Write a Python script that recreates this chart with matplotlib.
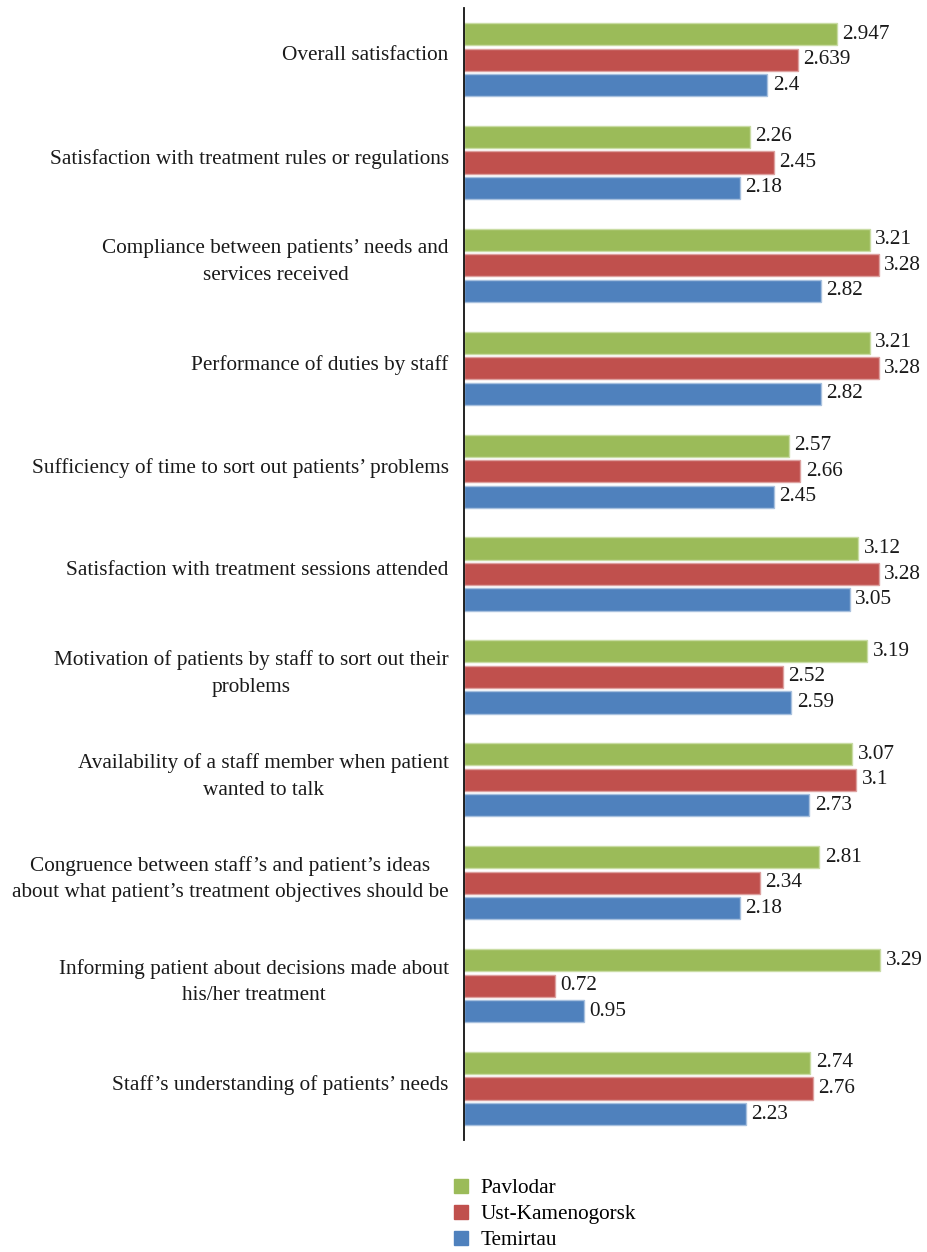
import matplotlib
matplotlib.use("Agg")
import matplotlib.pyplot as plt
from matplotlib.patches import Patch
import numpy as np

categories = [
    "Overall satisfaction",
    "Satisfaction with treatment rules or regulations",
    "Compliance between patients\u2019 needs and\nservices received",
    "Performance of duties by staff",
    "Sufficiency of time to sort out patients\u2019 problems",
    "Satisfaction with treatment sessions attended",
    "Motivation of patients by staff to sort out their\nproblems",
    "Availability of a staff member when patient\nwanted to talk",
    "Congruence between staff\u2019s and patient\u2019s ideas\nabout what patient\u2019s treatment objectives should be",
    "Informing patient about decisions made about\nhis/her treatment",
    "Staff\u2019s understanding of patients\u2019 needs",
]
pavlodar = [2.947, 2.26, 3.21, 3.21, 2.57, 3.12, 3.19, 3.07, 2.81, 3.29, 2.74]
ust_kamenogorsk = [2.639, 2.45, 3.28, 3.28, 2.66, 3.28, 2.52, 3.1, 2.34, 0.72, 2.76]
temirtau = [2.4, 2.18, 2.82, 2.82, 2.45, 3.05, 2.59, 2.73, 2.18, 0.95, 2.23]
value_labels = [
    ["2.947", "2.26", "3.21", "3.21", "2.57", "3.12", "3.19", "3.07", "2.81", "3.29", "2.74"],
    ["2.639", "2.45", "3.28", "3.28", "2.66", "3.28", "2.52", "3.1", "2.34", "0.72", "2.76"],
    ["2.4", "2.18", "2.82", "2.82", "2.45", "3.05", "2.59", "2.73", "2.18", "0.95", "2.23"],
]
series_names = ["Pavlodar", "Ust-Kamenogorsk", "Temirtau"]
colors = ["#9BBB59", "#C0504D", "#4F81BD"]
edge_colors = ["#C9DCA4", "#DDA19F", "#A7C0DE"]

plt.rcParams['font.family'] = ['Liberation Serif', 'DejaVu Serif']
FS = 15.3

fig = plt.figure(figsize=(9.28, 12.52), dpi=100)
ax = fig.add_axes([0.5, 0.0895, 0.5, 0.904])

y = np.arange(len(categories))
offsets = [-0.248, 0.0, 0.248]
series = [pavlodar, ust_kamenogorsk, temirtau]
for s, vals in enumerate(series):
    ax.barh(y + offsets[s], vals, height=0.215, color=colors[s],
            edgecolor=edge_colors[s], linewidth=1.0, zorder=2)
    for i, v in enumerate(vals):
        ax.annotate(value_labels[s][i], (v, y[i] + offsets[s]), xytext=(4, 0),
                    textcoords="offset points", ha="left", va="center",
                    fontsize=FS, color="#1a1a1a")

ax.set_xlim(0, 3.67)
ax.set_ylim(10.5, -0.5)
for sp in ["top", "right", "bottom"]:
    ax.spines[sp].set_visible(False)
ax.spines["left"].set_linewidth(1.3)
ax.spines["left"].set_color("#111111")
ax.set_xticks([])
ax.set_yticks([])

for i, c in enumerate(categories):
    ax.annotate(c, (0, y[i] - 0.035), xytext=(-11, 0), textcoords="offset points",
                ha="right", va="center", multialignment="center",
                fontsize=FS, color="#1a1a1a", linespacing=1.55,
                annotation_clip=False)

handles = [Patch(facecolor=colors[s], edgecolor=colors[s]) for s in range(3)]
fig.legend(handles, series_names, loc="upper left", bbox_to_anchor=(0.4895, 0.0585),
           frameon=False, fontsize=FS, handlelength=0.65, handleheight=0.65,
           handletextpad=0.6, labelspacing=0.3, borderpad=0, borderaxespad=0)

fig.savefig("out.png", dpi=100)
